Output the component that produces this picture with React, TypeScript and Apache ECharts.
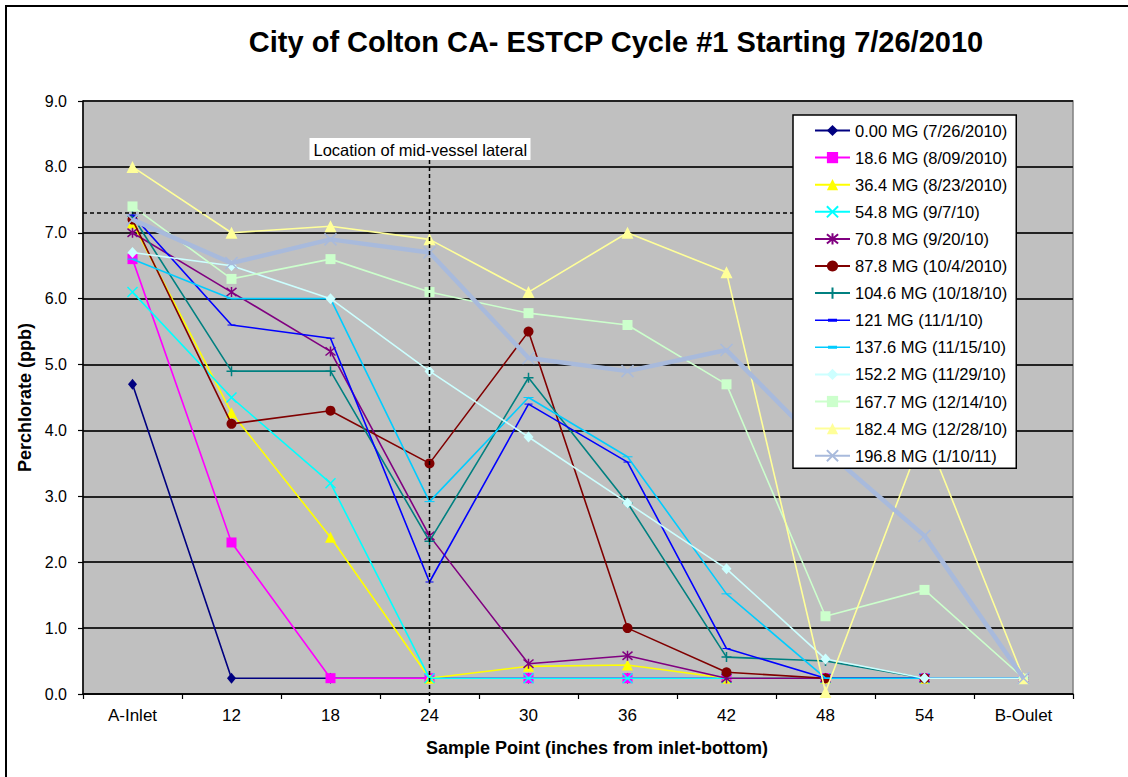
import React, { useEffect, useRef } from "react";
import * as echarts from "echarts";

const categories = ["A-Inlet", "12", "18", "24", "30", "36", "42", "48", "54", "B-Oulet"];

const seriesNames = [
  "0.00 MG (7/26/2010)",
  "18.6 MG (8/09/2010)",
  "36.4 MG (8/23/2010)",
  "54.8 MG (9/7/10)",
  "70.8 MG (9/20/10)",
  "87.8 MG (10/4/2010)",
  "104.6 MG (10/18/10)",
  "121 MG (11/1/10)",
  "137.6 MG (11/15/10)",
  "152.2 MG (11/29/10)",
  "167.7 MG (12/14/10)",
  "182.4 MG (12/28/10)",
  "196.8 MG (1/10/11)",
];

const s00 = [4.7, 0.24, 0.24, 0.24, 0.24, 0.24, 0.24, 0.24, 0.24, 0.24];
const s186 = [6.6, 2.3, 0.24, 0.24, 0.24, 0.24, 0.24, 0.24, 0.24, 0.24];
const s364 = [7.15, 4.27, 2.38, 0.24, 0.42, 0.44, 0.24, 0.24, 0.24, 0.24];
const s548 = [6.1, 4.5, 3.2, 0.24, 0.24, 0.24, 0.24, 0.24, 0.24, 0.24];
const s708 = [7.0, 6.1, 5.2, 2.4, 0.46, 0.58, 0.24, 0.24, 0.24, 0.24];
const s878 = [7.2, 4.1, 4.3, 3.5, 5.5, 1.0, 0.33, 0.24, 0.24, 0.24];
const s1046 = [7.25, 4.9, 4.9, 2.32, 4.8, 2.9, 0.56, 0.5, 0.24, 0.24];
const s121 = [7.27, 5.6, 5.4, 1.7, 4.4, 3.52, 0.69, 0.24, 0.24, 0.24];
const s1376 = [6.6, 6.0, 6.0, 2.92, 4.5, 3.6, 1.52, 0.24, 0.24, 0.24];
const s1522 = [6.7, 6.5, 6.0, 4.9, 3.9, 2.9, 1.9, 0.53, 0.24, 0.24];
const s1677 = [7.4, 6.3, 6.6, 6.1, 5.78, 5.6, 4.7, 1.18, 1.58, 0.24];
const s1824 = [8.0, 7.0, 7.1, 6.9, 6.1, 7.0, 6.4, 0.03, 4.0, 0.24];
const s1968 = [7.2, 6.54, 6.9, 6.7, 5.1, 4.9, 5.22, 3.7, 2.4, 0.24];

const seriesValues = [s00, s186, s364, s548, s708, s878, s1046, s121, s1376, s1522, s1677, s1824, s1968];

const seriesColors = [
  "#000080", "#FF00FF", "#FFFF00", "#00FFFF", "#800080", "#800000", "#008080",
  "#0000FF", "#00CCFF", "#CCFFFF", "#CCFFCC", "#FFFF99", "#A8BADC",
];

const X_PATH = "path://M0 0L10 10M10 0L0 10";
const STAR_PATH = "path://M0 0L10 10M10 0L0 10M5 -1L5 11";
const PLUS_PATH = "path://M5 0L5 10M0 5L10 5";
const DASH_PATH = "path://M0 0L9 0L9 3L0 3Z";
const DASH_LEGEND_ICON =
  "path://M0 0L0 0Z M0 6.2L35 6.2L35 7.8L0 7.8Z M13 5.5L22 5.5L22 8.5L13 8.5Z M35 14L35 14Z";

const seriesSymbols: any[] = [
  "diamond", "rect", "triangle", X_PATH, STAR_PATH, "circle", PLUS_PATH,
  DASH_PATH, DASH_PATH, "diamond", "rect", "triangle", X_PATH,
];
const seriesSymbolSizes: any[] = [
  [9, 11], 10, 11, 10, 10, 10, 10, [8, 3], [10, 3], [10, 11], 10, 12, 12,
];

const yTicks = [0, 1, 2, 3, 4, 5, 6, 7, 8, 9];
const lateralLevel = 7.3;
const lateralCategory = "24";
const lateralLabel = "Location of mid-vessel lateral";
const titleText = "City of Colton CA- ESTCP Cycle #1 Starting 7/26/2010";
const xName = "Sample Point (inches from inlet-bottom)";
const yName = "Perchlorate (ppb)";

const FONT = "'Liberation Sans', Arial, sans-serif";

export default function App() {
  const ref = useRef<HTMLDivElement>(null);
  useEffect(() => {
    document.body.style.margin = "0";
    const chart = echarts.init(ref.current!, null, { renderer: "svg" });
    const strokeSym = (i: number) => seriesSymbols[i] === X_PATH || seriesSymbols[i] === STAR_PATH || seriesSymbols[i] === PLUS_PATH;
    const series = seriesValues.map((vals, i) => ({
      name: seriesNames[i],
      type: "line",
      data: vals,
      symbol: seriesSymbols[i],
      symbolSize: seriesSymbolSizes[i],
      symbolKeepAspect: seriesSymbols[i] === DASH_PATH,
      showAllSymbol: true,
      z: 2 + i * 0.01,
      lineStyle: { color: seriesColors[i], width: i === 12 ? 4.5 : 1.6 },
      itemStyle: strokeSym(i)
        ? { color: seriesColors[i], borderColor: seriesColors[i], borderWidth: 1.5 }
        : { color: seriesColors[i], borderWidth: 0 },
      emphasis: { disabled: true },
    }));
    const legendData = seriesNames.map((n, i) =>
      seriesSymbols[i] === DASH_PATH ? { name: n, icon: DASH_LEGEND_ICON } : { name: n }
    );
    const option: any = {
      animation: false,
      textStyle: { fontFamily: FONT },
      grid: {
        left: 83, top: 101, right: 55, bottom: 83,
        show: true, backgroundColor: "#C0C0C0", borderColor: "#808080", borderWidth: 1.5,
      },
      legend: {
        orient: "vertical",
        left: 793,
        top: 115,
        padding: [7, 9, 4, 21],
        itemGap: 10.1,
        itemWidth: 35,
        itemHeight: 14,
        backgroundColor: "#FFFFFF",
        borderColor: "#000000",
        borderWidth: 1.5,
        textStyle: { fontFamily: FONT, fontSize: 16.5, color: "#000" },
        data: legendData,
      },
      xAxis: {
        type: "category",
        data: categories,
        boundaryGap: true,
        axisLine: { lineStyle: { color: "#000", width: 1.5 } },
        axisTick: { show: true, length: 5, lineStyle: { color: "#000", width: 1.2 } },
        axisLabel: { color: "#000", fontSize: 17, margin: 13, fontFamily: FONT },
        splitLine: { show: false },
        name: xName,
        nameLocation: "middle",
        nameGap: 45,
        nameTextStyle: { fontWeight: "bold", fontSize: 18, color: "#000", fontFamily: FONT, padding: [0, 0, 0, 38] },
      },
      yAxis: {
        type: "value",
        min: yTicks[0],
        max: yTicks[yTicks.length - 1],
        interval: 1,
        axisLine: { show: true, lineStyle: { color: "#000", width: 1.5 } },
        axisTick: { show: true, length: 5, lineStyle: { color: "#000", width: 1.2 } },
        axisLabel: { color: "#000", fontSize: 16, margin: 16, fontFamily: FONT, formatter: (v: number) => v.toFixed(1) },
        splitLine: { show: true, lineStyle: { color: "#222", width: 1.8 } },
        name: yName,
        nameLocation: "middle",
        nameGap: 37,
        nameTextStyle: { fontWeight: "bold", fontSize: 18, color: "#000", fontFamily: FONT },
      },
      series,
    };
    chart.setOption(option);
    const idx = categories.indexOf(lateralCategory);
    const [x24, y0] = chart.convertToPixel({ gridIndex: 0 }, [idx, 0]) as number[];
    const [, yLat] = chart.convertToPixel({ gridIndex: 0 }, [0, lateralLevel]) as number[];
    const labelTop = 138;
    const labelH = 22;
    chart.setOption({
      graphic: [
        {
          type: "polyline", z: 100, silent: true,
          shape: { points: [[6, 777], [6, 6], [1128, 6]] },
          style: { stroke: "#000", lineWidth: 2, fill: null },
        },
        {
          type: "text", z: 100, silent: true, x: 616, y: 42,
          style: { text: titleText, font: `bold 29px ${FONT}`, fill: "#000", align: "center", verticalAlign: "middle" },
        },
        {
          type: "line", z: 100, silent: true,
          shape: { x1: x24, y1: labelTop + labelH, x2: x24, y2: y0 + 9 },
          style: { stroke: "#000", lineWidth: 1.5, lineDash: [4, 3] },
        },
        {
          type: "line", z: 100, silent: true,
          shape: { x1: 83, y1: yLat, x2: 793, y2: yLat },
          style: { stroke: "#000", lineWidth: 1.5, lineDash: [4, 3] },
        },
        {
          type: "rect", z: 100, silent: true,
          shape: { x: x24 - 120, y: labelTop, width: 221, height: labelH },
          style: { fill: "#FFFFFF" },
        },
        {
          type: "text", z: 101, silent: true, x: x24 - 116, y: labelTop + labelH / 2 + 1,
          style: { text: lateralLabel, font: `16.5px ${FONT}`, fill: "#000", align: "left", verticalAlign: "middle" },
        },
      ],
    });
    return () => chart.dispose();
  }, []);
  return <div ref={ref} style={{ width: 1128, height: 777 }} />;
}
